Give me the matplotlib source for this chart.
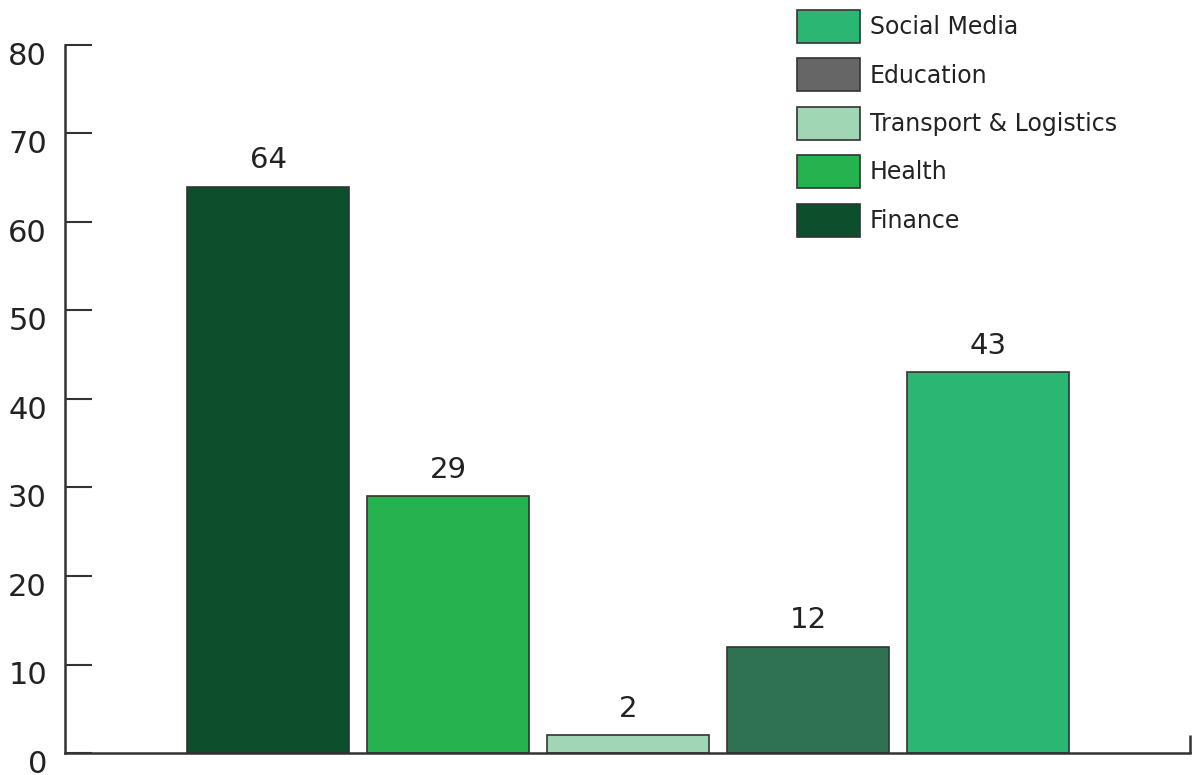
import matplotlib
matplotlib.use("Agg")
import matplotlib.pyplot as plt
import matplotlib.transforms as mtransforms
from matplotlib.patches import Patch

categories = ["Finance", "Health", "Transport & Logistics", "Education", "Social Media"]
values = [64, 29, 2, 12, 43]
bar_colors = ["#0d4f2d", "#25b24f", "#a0d6b4", "#2e7252", "#2bb673"]
legend_labels = ["Social Media", "Education", "Transport & Logistics", "Health", "Finance"]
legend_colors = ["#2bb673", "#666666", "#a0d6b4", "#25b24f", "#0d4f2d"]
yticks = [0, 10, 20, 30, 40, 50, 60, 70, 80]

plt.rcParams['font.family'] = ['DejaVu Sans']
fig = plt.figure(figsize=(11.98, 7.75), dpi=100)
W, H = 1198, 775
ax = fig.add_axes([65 / W, 1 - 753 / H, (1190 - 65) / W, (753 - 45) / H])

x = list(range(len(categories)))
bars = ax.bar(x, values, width=0.9, color=bar_colors, edgecolor="#333333", linewidth=1.2, zorder=2)
ax.bar_label(bars, labels=[str(v) for v in values], padding=9, fontsize=21, color="#222222")

ax.set_xlim((65 - 268) / 180, (1190 - 268) / 180)
ax.set_ylim(0, 80)
ax.set_yticks(yticks)
ax.set_yticklabels([str(t) for t in yticks], fontsize=22, color="#222222")
ax.set_xticks([(1190 - 268) / 180])
ax.set_xticklabels([""])

for s in ["top", "right"]:
    ax.spines[s].set_visible(False)
for s in ["left", "bottom"]:
    ax.spines[s].set_color("#333333")
    ax.spines[s].set_linewidth(1.8)

ax.tick_params(axis="y", direction="in", length=19.5, width=1.5, color="#333333", pad=13)
ax.tick_params(axis="x", direction="in", length=13, width=1.8, color="#333333")

offset = mtransforms.ScaledTranslation(0, -8.5 / 100, fig.dpi_scale_trans)
for lab in ax.get_yticklabels():
    lab.set_transform(lab.get_transform() + offset)

handles = [Patch(facecolor=c, edgecolor="#333333", linewidth=1.2) for c in legend_colors]
fig.legend(handles, legend_labels, loc="upper left",
           bbox_to_anchor=(797 / W, 1 - 10 / H), frameon=False, fontsize=17,
           handlelength=2.67, handleheight=1.777, labelspacing=0.65,
           handletextpad=0.42, borderpad=0, borderaxespad=0, labelcolor="#222222")

fig.savefig("out.png", dpi=100)
